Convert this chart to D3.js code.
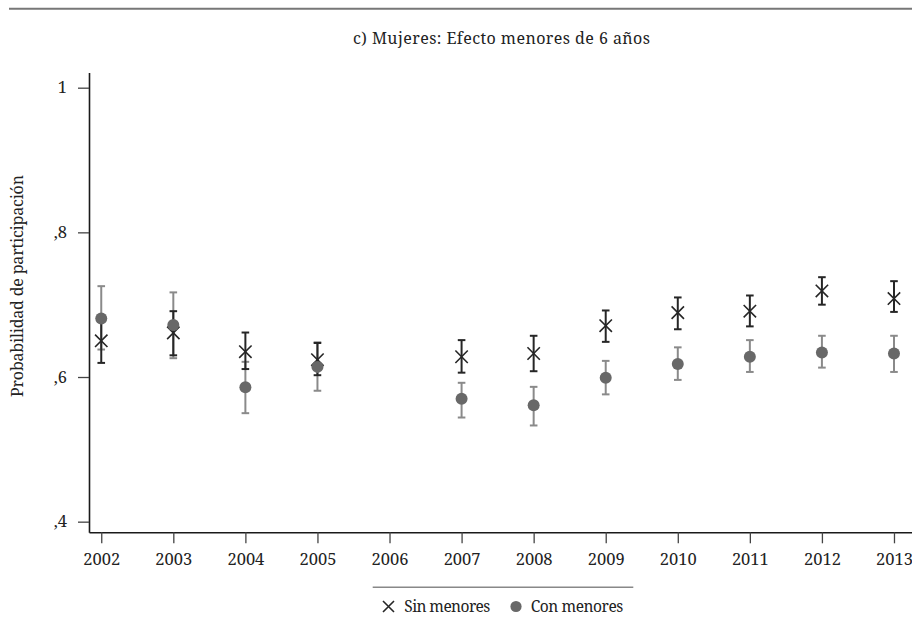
<!DOCTYPE html>
<html>
<head>
<meta charset="utf-8">
<script src="https://cdn.jsdelivr.net/npm/d3@7/dist/d3.min.js"></script>
<style>
  html, body { margin: 0; padding: 0; background: #fff; }
  svg { display: block; }
</style>
</head>
<body>
<svg id="chart" width="912" height="632"></svg>
<script>
// ---- data ----
const years = [2002, 2003, 2004, 2005, 2007, 2008, 2009, 2010, 2011, 2012, 2013];
const tickYears = [2002, 2003, 2004, 2005, 2006, 2007, 2008, 2009, 2010, 2011, 2012, 2013];
const yTicks = [0.4, 0.6, 0.8, 1];
const yTickLabels = [",4", ",6", ",8", "1"];

const sinMean = [0.650, 0.661, 0.635, 0.624, 0.628, 0.6325, 0.671, 0.689, 0.691, 0.719, 0.7085];
const sinLo   = [0.6195, 0.630, 0.611, 0.6025, 0.606, 0.608, 0.6486, 0.666, 0.670, 0.700, 0.690];
const sinHi   = [0.681, 0.691, 0.6615, 0.647, 0.651, 0.657, 0.692, 0.710, 0.7127, 0.738, 0.7325];

const conMean = [0.681, 0.672, 0.586, 0.614, 0.570, 0.561, 0.599, 0.618, 0.628, 0.634, 0.6325];
const conLo   = [0.638, 0.626, 0.550, 0.581, 0.544, 0.533, 0.576, 0.596, 0.607, 0.613, 0.607];
const conHi   = [0.7256, 0.717, 0.621, 0.648, 0.592, 0.5864, 0.6223, 0.641, 0.651, 0.657, 0.657];

const titleText = "c) Mujeres: Efecto menores de 6 años";
const yTitleText = "Probabilidad de participación";
const legendLabels = ["Sin menores", "Con menores"];

// ---- layout ----
const FONT = '"Noto Serif", "Liberation Serif", serif';
const TXT = "#222";
const svg = d3.select("#chart");
const x = d3.scaleLinear().domain([2001.83, 2013.25]).range([89, 912]);
const y = d3.scaleLinear().domain([0.3853, 1.021]).range([532.3, 72.5]);

const dark = "#262626";
const grayBar = "#8a8a8a";
const grayFill = "#686868";

function styleText(sel, size) {
  return sel.style("font-family", FONT).style("font-size", size + "px").style("fill", TXT);
}

// top rule
svg.append("line").attr("x1", 9).attr("x2", 912).attr("y1", 8.7).attr("y2", 8.7)
  .attr("stroke", "#777").attr("stroke-width", 2);

// title
styleText(svg.append("text"), 16).attr("x", 501.5).attr("y", 44).attr("text-anchor", "middle")
  .attr("textLength", 297).attr("lengthAdjust", "spacing")
  .text(titleText);

// y title
styleText(svg.append("text"), 16).attr("transform", "translate(23,286) rotate(-90)")
  .attr("text-anchor", "middle")
  .attr("textLength", 222).attr("lengthAdjust", "spacing")
  .text(yTitleText);

// axes
const yAxis = d3.axisLeft(y).tickValues(yTicks)
  .tickFormat((d, i) => yTickLabels[i]).tickSize(11).tickSizeOuter(0).tickPadding(11);
const gy = svg.append("g").attr("transform", "translate(89,0)").call(yAxis);

const xAxis = d3.axisBottom(x).tickValues(tickYears)
  .tickFormat(d => String(d)).tickSize(11).tickSizeOuter(0).tickPadding(10);
const gx = svg.append("g").attr("transform", "translate(0,532.3)").call(xAxis);

[gx, gy].forEach(g => {
  g.attr("font-family", null).attr("font-size", null);
  g.select(".domain").attr("stroke", "#1a1a1a").attr("stroke-width", 1.6);
  g.selectAll(".tick line").attr("stroke", "#444").attr("stroke-width", 1.3);
  styleText(g.selectAll(".tick text"), 16.5);
});

// error bars
function drawBars(lo, hi, color, cls) {
  const g = svg.append("g").attr("class", cls);
  years.forEach((yr, i) => {
    const cx = x(yr);
    g.append("line").attr("x1", cx).attr("x2", cx).attr("y1", y(lo[i])).attr("y2", y(hi[i]))
      .attr("stroke", color).attr("stroke-width", 2);
    [lo[i], hi[i]].forEach(v => {
      g.append("line").attr("x1", cx - 3.8).attr("x2", cx + 3.8).attr("y1", y(v)).attr("y2", y(v))
        .attr("stroke", color).attr("stroke-width", 2);
    });
  });
}
drawBars(conLo, conHi, grayBar, "con-bars");
drawBars(sinLo, sinHi, dark, "sin-bars");

// X markers
function xMarker(g, cx, cy, s) {
  g.append("path")
    .attr("d", `M${cx - s},${cy - s}L${cx + s},${cy + s}M${cx - s},${cy + s}L${cx + s},${cy - s}`)
    .attr("stroke", dark).attr("stroke-width", 1.6).attr("fill", "none");
}
const gSin = svg.append("g");
years.forEach((yr, i) => xMarker(gSin, x(yr), y(sinMean[i]), 6.2));

// circles
svg.append("g").selectAll("circle").data(years).join("circle")
  .attr("cx", d => x(d)).attr("cy", (d, i) => y(conMean[i])).attr("r", 6)
  .attr("fill", grayFill);

// legend
svg.append("line").attr("x1", 372.7).attr("x2", 633.3).attr("y1", 587.3).attr("y2", 587.3)
  .attr("stroke", "#888").attr("stroke-width", 1.5);
const gl = svg.append("g");
xMarker(gl, 388.5, 606.5, 5.5);
styleText(gl.append("text"), 15.5).attr("x", 404.3).attr("y", 612)
  .attr("textLength", 86).attr("lengthAdjust", "spacing").text(legendLabels[0]);
gl.append("circle").attr("cx", 516).attr("cy", 606.5).attr("r", 5.6).attr("fill", grayFill);
styleText(gl.append("text"), 15.5).attr("x", 530.7).attr("y", 612)
  .attr("textLength", 92.6).attr("lengthAdjust", "spacing").text(legendLabels[1]);
</script>
</body>
</html>
